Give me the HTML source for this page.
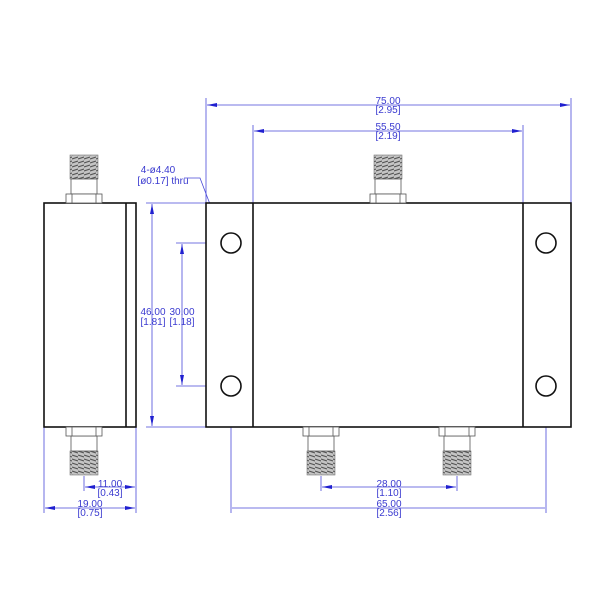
<!DOCTYPE html>
<html><head><meta charset="utf-8"><style>
html,body{margin:0;padding:0;background:#fff;}
svg{display:block;}
text{font-family:"Liberation Sans",sans-serif;font-size:10px;fill:#3a3ad0;}
</style></head><body>
<svg width="600" height="600" viewBox="0 0 600 600" xmlns="http://www.w3.org/2000/svg">
<defs>
<pattern id="th" width="6" height="4" patternUnits="userSpaceOnUse">
<rect width="6" height="4" fill="#c4c4c4"/>
<path d="M0 3 L6 1" stroke="#555" stroke-width="1.1"/>
</pattern>
<g id="conUp">
<rect x="-14" y="-25" width="28" height="24" fill="url(#th)" stroke="#777" stroke-width="0.6"/>
<rect x="-13" y="-1" width="26" height="15" fill="#fff" stroke="#555" stroke-width="0.8"/>
<rect x="-18" y="14" width="36" height="9" fill="#fff" stroke="#555" stroke-width="0.8"/>
<line x1="-12" y1="14" x2="-12" y2="23" stroke="#555" stroke-width="0.8"/>
<line x1="12" y1="14" x2="12" y2="23" stroke="#555" stroke-width="0.8"/>
</g>
<marker id="ar" markerWidth="10" markerHeight="6" refX="10" refY="3" orient="auto" markerUnits="userSpaceOnUse">
<path d="M0 1 L10 3 L0 5 Z" fill="#2020d0"/>
</marker>
</defs>
<g stroke="#4848d8" stroke-width="0.8" fill="none">
<line x1="206" y1="98" x2="206" y2="203"/>
<line x1="571" y1="98" x2="571" y2="203"/>
<line x1="253" y1="125" x2="253" y2="203"/>
<line x1="523" y1="125" x2="523" y2="203"/>
<line x1="146" y1="203" x2="206" y2="203"/>
<line x1="146" y1="427" x2="206" y2="427"/>
<line x1="176" y1="243" x2="231" y2="243"/>
<line x1="176" y1="386" x2="231" y2="386"/>
<line x1="44" y1="427" x2="44" y2="513"/>
<line x1="136" y1="427" x2="136" y2="513"/>
<line x1="84" y1="476" x2="84" y2="491"/>
<line x1="321" y1="476" x2="321" y2="491"/>
<line x1="457" y1="476" x2="457" y2="491"/>
<line x1="231" y1="386" x2="231" y2="513"/>
<line x1="546" y1="386" x2="546" y2="513"/>
<line x1="388" y1="105" x2="207" y2="105" marker-end="url(#ar)"/>
<line x1="388" y1="105" x2="570" y2="105" marker-end="url(#ar)"/>
<line x1="388" y1="131" x2="254" y2="131" marker-end="url(#ar)"/>
<line x1="388" y1="131" x2="522" y2="131" marker-end="url(#ar)"/>
<line x1="152" y1="315" x2="152" y2="204" marker-end="url(#ar)"/>
<line x1="152" y1="315" x2="152" y2="426" marker-end="url(#ar)"/>
<line x1="182" y1="315" x2="182" y2="244" marker-end="url(#ar)"/>
<line x1="182" y1="315" x2="182" y2="385" marker-end="url(#ar)"/>
<line x1="110" y1="487" x2="85" y2="487" marker-end="url(#ar)"/>
<line x1="110" y1="487" x2="135" y2="487" marker-end="url(#ar)"/>
<line x1="90" y1="508" x2="45" y2="508" marker-end="url(#ar)"/>
<line x1="90" y1="508" x2="135" y2="508" marker-end="url(#ar)"/>
<line x1="389" y1="487" x2="322" y2="487" marker-end="url(#ar)"/>
<line x1="389" y1="487" x2="456" y2="487" marker-end="url(#ar)"/>
<line x1="232" y1="508" x2="545" y2="508"/>
<polyline points="184,178 200,178 221,233" marker-end="url(#ar)"/>
</g>
<g stroke="#111" stroke-width="1.6" fill="#fff">
<rect x="44" y="203" width="92" height="224"/>
<line x1="126" y1="203" x2="126" y2="427"/>
<rect x="206" y="203" width="365" height="224"/>
<line x1="253" y1="203" x2="253" y2="427"/>
<line x1="523" y1="203" x2="523" y2="427"/>
<circle cx="231" cy="243" r="10"/>
<circle cx="231" cy="386" r="10"/>
<circle cx="546" cy="243" r="10"/>
<circle cx="546" cy="386" r="10"/>
</g>
<use href="#conUp" transform="translate(84,180)"/>
<use href="#conUp" transform="translate(388,180)"/>
<use href="#conUp" transform="translate(84,450) scale(1,-1)"/>
<use href="#conUp" transform="translate(321,450) scale(1,-1)"/>
<use href="#conUp" transform="translate(457,450) scale(1,-1)"/>
<g text-anchor="middle">
<text x="388" y="104">75.00</text><text x="388" y="113">[2.95]</text>
<text x="388" y="130">55.50</text><text x="388" y="139">[2.19]</text>
<text x="153" y="315">46.00</text><text x="153" y="325">[1.81]</text>
<text x="182" y="315">30.00</text><text x="182" y="325">[1.18]</text>
<text x="110" y="487">11.00</text><text x="110" y="496">[0.43]</text>
<text x="90" y="507">19.00</text><text x="90" y="516">[0.75]</text>
<text x="389" y="487">28.00</text><text x="389" y="496">[1.10]</text>
<text x="389" y="507">65.00</text><text x="389" y="516">[2.56]</text>
<text x="158" y="173">4-ø4.40</text><text x="163" y="184">[ø0.17] thru</text>
</g>
</svg>
</body></html>
